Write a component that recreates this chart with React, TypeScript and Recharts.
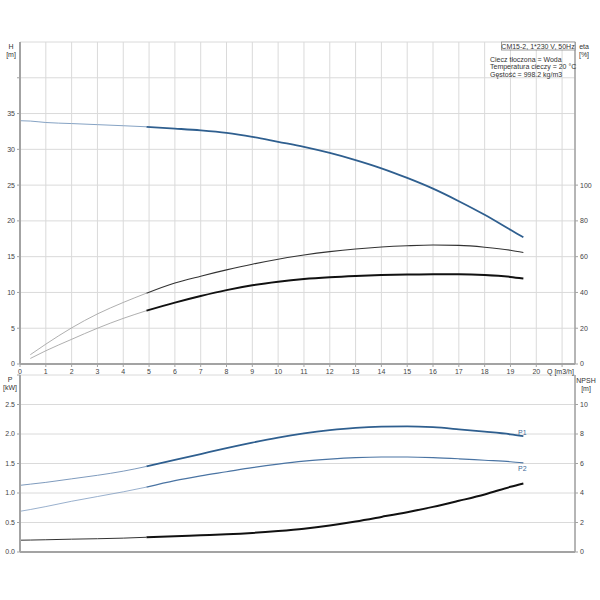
import React from "react";
import { CartesianGrid, LabelList, Line, LineChart, XAxis, YAxis } from "recharts";

// flow points [m3/h]
const Q = [0, 0.4, 1, 2, 3, 4, 4.9, 6, 7, 8, 9, 10, 11, 12, 13, 14, 15, 16, 17, 18, 19, 19.5];
// head [m]
const H = [34.0, 33.95, 33.75, 33.6, 33.45, 33.3, 33.15, 32.9, 32.65, 32.3, 31.75, 31.05, 30.35, 29.5, 28.5, 27.35, 26.0, 24.5, 22.75, 20.85, 18.75, 17.7];
// efficiency [%] – upper thin curve and lower heavy curve
const ETA_A = [null, 5.2, 11.1, 20.2, 28.0, 34.4, 39.6, 45.3, 49.1, 52.6, 55.8, 58.6, 60.9, 62.8, 64.3, 65.4, 66.1, 66.5, 66.3, 65.3, 63.6, 62.3];
const ETA_B = [null, 3.1, 7.4, 13.8, 20.0, 25.5, 29.8, 34.3, 38.0, 41.3, 44.0, 46.0, 47.5, 48.5, 49.2, 49.7, 50.0, 50.2, 50.2, 49.8, 48.7, 47.8];
// power [kW]
const P1 = [1.13, 1.15, 1.18, 1.24, 1.3, 1.37, 1.45, 1.56, 1.66, 1.76, 1.855, 1.94, 2.01, 2.065, 2.105, 2.125, 2.13, 2.115, 2.08, 2.04, 1.995, 1.965];
const P2 = [0.69, 0.72, 0.77, 0.86, 0.94, 1.02, 1.1, 1.21, 1.29, 1.36, 1.43, 1.49, 1.54, 1.575, 1.6, 1.61, 1.61, 1.6, 1.58, 1.555, 1.53, 1.51];
// NPSH [m]
const NPSH = [0.8, 0.81, 0.83, 0.87, 0.9, 0.94, 1.0, 1.07, 1.14, 1.2, 1.29, 1.42, 1.58, 1.8, 2.07, 2.38, 2.7, 3.06, 3.47, 3.9, 4.42, 4.65];

const DUTY_START = 4.9; // curves drawn heavy from here on

const Q_TICKS = [0, 1, 2, 3, 4, 5, 6, 7, 8, 9, 10, 11, 12, 13, 14, 15, 16, 17, 18, 19, 20, 21];
const H_TICKS = [0, 5, 10, 15, 20, 25, 30, 35, 40];
const ETA_TICKS = [0, 20, 40, 60, 80, 100];
const P_TICKS = [0, 0.5, 1, 1.5, 2, 2.5];
const NPSH_TICKS = [0, 2, 4, 6, 8, 10];

const INFO = ["Ciecz tłoczona = Woda", "Temperatura cieczy = 20 °C", "Gęstość = 998.2 kg/m3"];

const split = (vals: (number | null)[], i: number, q: number) => ({
  thin: q <= DUTY_START ? vals[i] : null,
  thick: q >= DUTY_START ? vals[i] : null,
});

const rows = Q.map((q, i) => {
  const h = split(H, i, q);
  const a = split(ETA_A, i, q);
  const b = split(ETA_B, i, q);
  const p1 = split(P1, i, q);
  const p2 = split(P2, i, q);
  const n = split(NPSH, i, q);
  return {
    q,
    hThin: h.thin, hThick: h.thick,
    etaAThin: a.thin, etaAThick: a.thick,
    etaBThin: b.thin, etaBThick: b.thick,
    p1Thin: p1.thin, p1Thick: p1.thick,
    p2Thin: p2.thin, p2Thick: p2.thick,
    npshThin: n.thin, npshThick: n.thick,
  };
});

const FONT = "'Liberation Sans', Arial, sans-serif";
const GRID = "#dadada";
const AXIS = "#a3a3a3";
const TICK = { fill: "#444", fontSize: 7, fontFamily: FONT };
const BLUE = "#2f5f8f";
const LAST = Q.length - 1;

const endLabel = (text: string, dy: number) => (props: any) => {
  if (props.index !== LAST) return null;
  return (
    <text x={props.x - 1} y={props.y + dy} textAnchor="middle" fontSize={7} fontFamily={FONT} fill="#3d6a99">
      {text}
    </text>
  );
};

export default function App() {
  return (
    <div style={{ position: "absolute", left: 0, top: 0, width: 600, height: 600, background: "#fff", fontFamily: FONT }}>
      <div style={{ position: "absolute", left: 0, top: 0 }}>
        <LineChart width={600} height={380} data={rows} margin={{ top: 42, right: 0, bottom: 0, left: 0 }}>
          <CartesianGrid yAxisId="h" stroke={GRID} />
          <XAxis
            dataKey="q"
            type="number"
            domain={[0, 21.5]}
            ticks={Q_TICKS}
            tickFormatter={(v) => (v > 20 ? "" : String(v))}
            height={16}
            tickSize={3}
            tick={TICK}
            stroke={AXIS}
            axisLine={{ stroke: AXIS, strokeWidth: 2 }}
            allowDataOverflow
          />
          <YAxis
            yAxisId="h"
            domain={[0, 45]}
            ticks={H_TICKS}
            tickFormatter={(v) => (v > 35 ? "" : String(v))}
            width={20}
            tickSize={3}
            tick={TICK}
            stroke={AXIS}
            axisLine={{ stroke: AXIS, strokeWidth: 2 }}
          />
          <YAxis
            yAxisId="eta"
            orientation="right"
            domain={[0, 180]}
            ticks={ETA_TICKS}
            width={25}
            tickSize={3}
            tick={TICK}
            stroke={AXIS}
            axisLine={{ stroke: AXIS, strokeWidth: 1.5 }}
          />
          <Line yAxisId="h" dataKey="hThin" type="monotone" stroke="#86a3c4" strokeWidth={1} dot={false} isAnimationActive={false} />
          <Line yAxisId="h" dataKey="hThick" type="monotone" stroke={BLUE} strokeWidth={1.8} dot={false} isAnimationActive={false} />
          <Line yAxisId="eta" dataKey="etaAThin" type="monotone" stroke="#9a9a9a" strokeWidth={0.8} dot={false} isAnimationActive={false} />
          <Line yAxisId="eta" dataKey="etaAThick" type="monotone" stroke="#333" strokeWidth={1.1} dot={false} isAnimationActive={false} />
          <Line yAxisId="eta" dataKey="etaBThin" type="monotone" stroke="#9a9a9a" strokeWidth={0.8} dot={false} isAnimationActive={false} />
          <Line yAxisId="eta" dataKey="etaBThick" type="monotone" stroke="#111" strokeWidth={2} dot={false} isAnimationActive={false} />
        </LineChart>
      </div>

      <div style={{ position: "absolute", left: 0, top: 370 }}>
        <LineChart width={600} height={230} data={rows} margin={{ top: 5, right: 0, bottom: 38, left: 0 }}>
          <CartesianGrid yAxisId="p" stroke={GRID} />
          <XAxis
            dataKey="q"
            type="number"
            domain={[0, 21.5]}
            ticks={Q_TICKS}
            tick={false}
            height={10}
            tickSize={0}
            stroke={AXIS}
            axisLine={{ stroke: AXIS, strokeWidth: 2 }}
            allowDataOverflow
          />
          <YAxis
            yAxisId="p"
            domain={[0, 3]}
            ticks={[...P_TICKS, 3]}
            tickFormatter={(v) => (v > 2.5 ? "" : v.toFixed(1))}
            width={20}
            tickSize={3}
            tick={TICK}
            stroke={AXIS}
            axisLine={{ stroke: AXIS, strokeWidth: 2 }}
          />
          <YAxis
            yAxisId="npsh"
            orientation="right"
            domain={[0, 12]}
            ticks={NPSH_TICKS}
            width={25}
            tickSize={3}
            tick={TICK}
            stroke={AXIS}
            axisLine={{ stroke: AXIS, strokeWidth: 1.5 }}
          />
          <Line yAxisId="p" dataKey="p1Thin" type="monotone" stroke="#6f8fb5" strokeWidth={0.9} dot={false} isAnimationActive={false} />
          <Line yAxisId="p" dataKey="p1Thick" type="monotone" stroke={BLUE} strokeWidth={1.8} dot={false} isAnimationActive={false}>
            <LabelList dataKey="p1Thick" content={endLabel("P1", -1)} />
          </Line>
          <Line yAxisId="p" dataKey="p2Thin" type="monotone" stroke="#7f9cc0" strokeWidth={0.8} dot={false} isAnimationActive={false} />
          <Line yAxisId="p" dataKey="p2Thick" type="monotone" stroke="#4a74a3" strokeWidth={1.2} dot={false} isAnimationActive={false}>
            <LabelList dataKey="p2Thick" content={endLabel("P2", 8)} />
          </Line>
          <Line yAxisId="npsh" dataKey="npshThin" type="monotone" stroke="#333" strokeWidth={1} dot={false} isAnimationActive={false} />
          <Line yAxisId="npsh" dataKey="npshThick" type="monotone" stroke="#111" strokeWidth={2} dot={false} isAnimationActive={false} />
        </LineChart>
      </div>

      <svg width={600} height={600} style={{ position: "absolute", left: 0, top: 0, pointerEvents: "none" }}>
        <g fontFamily={FONT} fontSize={7} fill="#333" dominantBaseline="central">
          <text x={11} y={46} textAnchor="middle">H</text>
          <text x={11} y={54} textAnchor="middle">[m]</text>
          <text x={584} y={46} textAnchor="middle">eta</text>
          <text x={584} y={54} textAnchor="middle">[%]</text>
          <text x={547} y={371}>Q [m3/h]</text>
          <text x={10} y={379} textAnchor="middle">P</text>
          <text x={10} y={387} textAnchor="middle">[kW]</text>
          <text x={586} y={380} textAnchor="middle">NPSH</text>
          <text x={586} y={388} textAnchor="middle">[m]</text>
          <rect x={501.5} y={42} width={73.5} height={8} fill="#fff" stroke="#888" strokeWidth={0.8} />
          <text x={538} y={46} textAnchor="middle">CM15-2, 1*230 V, 50Hz</text>
          {INFO.map((line, i) => (
            <text key={line} x={490} y={59.5 + i * 7.4}>{line}</text>
          ))}
        </g>
      </svg>
    </div>
  );
}
